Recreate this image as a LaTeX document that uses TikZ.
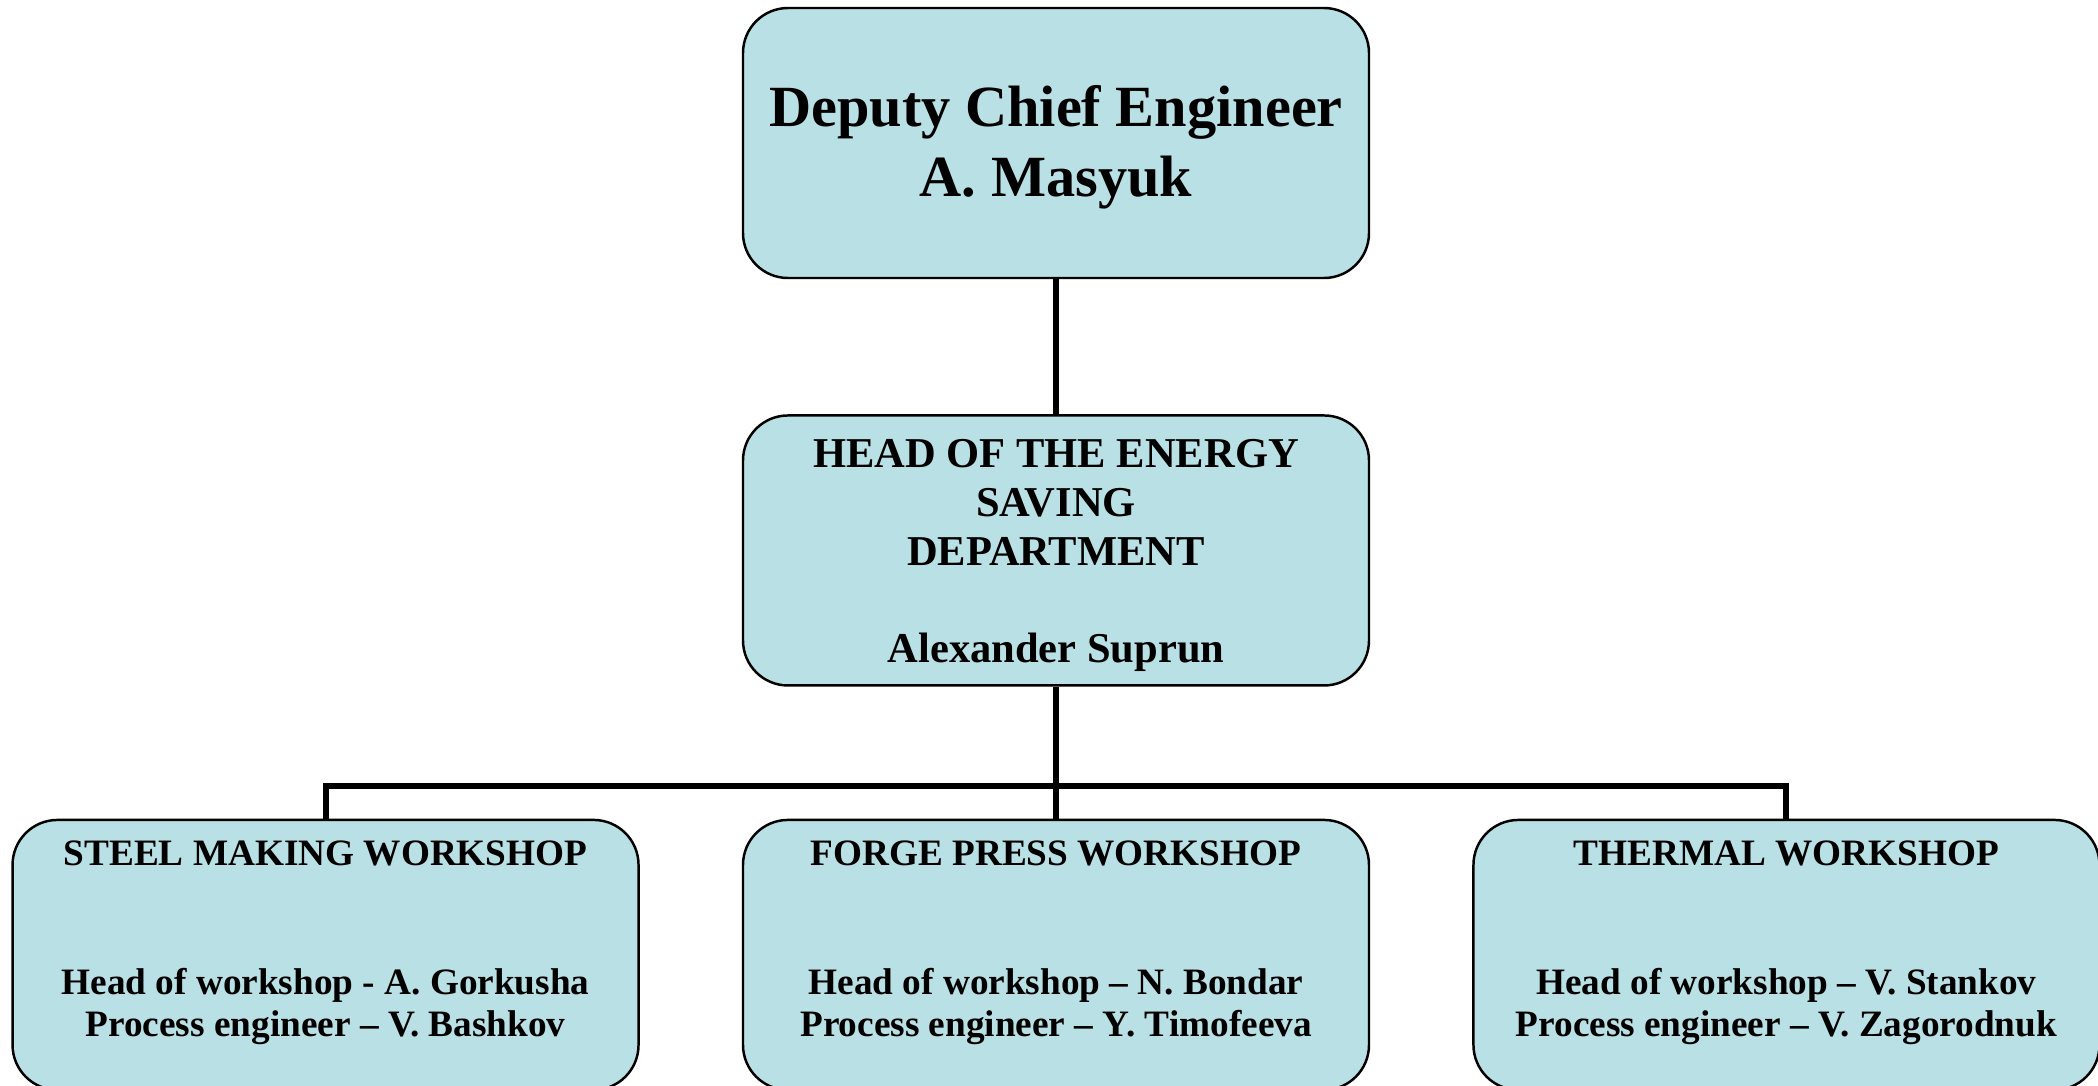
\documentclass[tikz,border=0pt]{standalone}
\usepackage{fontspec}
\setmainfont{Liberation Serif}
\usepackage{tikz}
\usetikzlibrary{positioning}
\definecolor{boxblue}{RGB}{185,224,228}

\begin{document}
\begin{tikzpicture}[unit/.style={draw,fill=boxblue,rounded corners=0.45cm,line width=0.7pt,minimum width=6.26cm,minimum height=2.70cm,inner sep=0pt},
    bigtext/.style={align=center,inner sep=0pt,font=\bfseries\fontsize{16.6}{19.8}\selectfont},
    midtext/.style={align=center,inner sep=0pt,font=\bfseries\fontsize{12.1}{13.9}\selectfont},
    smalltext/.style={align=center,inner sep=0pt,font=\bfseries\fontsize{10.6}{12.2}\selectfont},
    link/.style={line width=1.7pt}]
      \useasboundingbox (0,0) rectangle (20.98,-10.85);
      \node[unit](deputy) at (10.56,-1.43){};
      \node[unit,below=1.35cm of deputy](head){};
      \node[unit,below=1.32cm of head](forge){};
      \node[unit,left=1.02cm of forge](steel){};
      \node[unit,right=1.02cm of forge](thermal){};
      \node[bigtext](deputytext) at ([yshift=-0.04cm]deputy.center){Deputy Chief Engineer\\A. Masyuk};
      \node[midtext](headtext) at ([yshift=-0.05cm]head.center){HEAD OF THE ENERGY\\SAVING\\DEPARTMENT\\[\baselineskip]Alexander Suprun};
      \node[smalltext](forgetext) at ([yshift=0.12cm]forge.center){FORGE PRESS WORKSHOP\\[2\baselineskip]Head of workshop -- N. Bondar\\Process engineer -- Y. Timofeeva};
      \node[smalltext](steeltext) at ([yshift=0.12cm]steel.center){STEEL MAKING WORKSHOP\\[2\baselineskip]Head of workshop - A. Gorkusha\\Process engineer -- V. Bashkov};
      \node[smalltext](thermaltext) at ([yshift=0.12cm]thermal.center){THERMAL WORKSHOP\\[2\baselineskip]Head of workshop -- V. Stankov\\Process engineer -- V. Zagorodnuk};
      \coordinate[below=0.99cm of head.south](bus);
      \draw[link](deputy)--(head);
      \draw[link](head)--(forge);
      \draw[link](steel.north)|-(bus)-|(thermal.north);
    \end{tikzpicture}
\end{document}
